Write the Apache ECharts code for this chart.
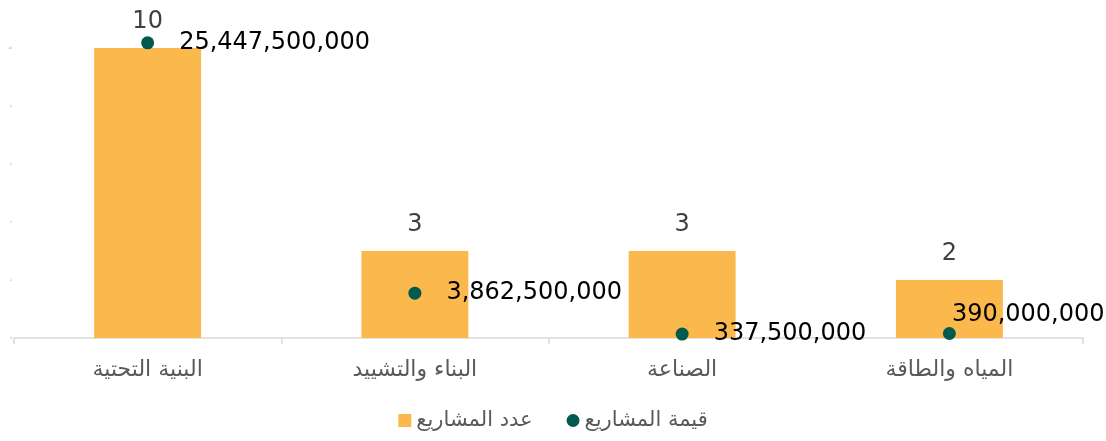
<!DOCTYPE html>
<html>
<head>
<meta charset="utf-8">
<script src="https://cdn.jsdelivr.net/npm/echarts@6/dist/echarts.min.js"></script>
<style>
  html, body { margin: 0; padding: 0; background: #fff; }
  #chart { width: 1106px; height: 441px; }
</style>
</head>
<body>
<div id="chart"></div>
<script>
// القطاعات
const categories = ['البنية التحتية', 'البناء والتشييد', 'الصناعة', 'المياه والطاقة'];
const projectCount = [10, 3, 3, 2];
const projectValue = [25447500000, 3862500000, 337500000, 390000000];
const countTicks = [0, 2, 4, 6, 8, 10];

const chart = echarts.init(document.getElementById('chart'));

// last label is pushed up/left in the original so it stays inside the chart
const valueData = projectValue.map((v, i) => {
  if (i === projectValue.length - 1) {
    return { value: v, label: { offset: [-29, -19] } };
  }
  return v;
});

const option = {
  backgroundColor: '#ffffff',
  textStyle: { fontFamily: 'DejaVu Sans, Noto Sans, sans-serif' },
  grid: { left: 14, right: 23, top: 48, bottom: 103 },
  legend: {
    bottom: 5,
    left: 'center',
    itemGap: 34,
    itemWidth: 13,
    itemHeight: 13,
    textStyle: { fontSize: 21, color: '#595959' },
    data: [
      { name: 'عدد المشاريع', icon: 'rect' },
      { name: 'قيمة المشاريع', icon: 'circle' }
    ]
  },
  xAxis: {
    type: 'category',
    data: categories,
    axisLine: { lineStyle: { color: '#d9d9d9', width: 1.5 } },
    axisTick: { show: true, length: 6, lineStyle: { color: '#d9d9d9', width: 1.5 } },
    axisLabel: { fontSize: 22, color: '#595959', margin: 21 }
  },
  yAxis: [
    {
      type: 'value',
      min: countTicks[0],
      max: countTicks[countTicks.length - 1],
      interval: 2,
      splitLine: { show: false },
      axisLine: { show: false },
      axisTick: { show: false },
      axisLabel: { fontSize: 3, color: '#aaa', margin: 2 }
    },
    {
      type: 'value',
      min: 0,
      max: 25000000000,
      show: false,
      splitLine: { show: false }
    }
  ],
  series: [
    {
      name: 'عدد المشاريع',
      type: 'bar',
      yAxisIndex: 0,
      barWidth: '40%',
      itemStyle: { color: '#FBB84C' },
      label: {
        show: true,
        position: 'top',
        distance: 14,
        fontSize: 24,
        color: '#404040'
      },
      data: projectCount
    },
    {
      name: 'قيمة المشاريع',
      type: 'scatter',
      yAxisIndex: 1,
      symbol: 'circle',
      symbolSize: 13,
      clip: false,
      itemStyle: { color: '#005A4E', opacity: 1 },
      label: {
        show: true,
        position: 'right',
        distance: 25,
        fontSize: 24,
        color: '#000',
        formatter: p => p.value.toLocaleString('en-US')
      },
      data: valueData
    }
  ]
};

chart.setOption(option);
</script>
</body>
</html>
